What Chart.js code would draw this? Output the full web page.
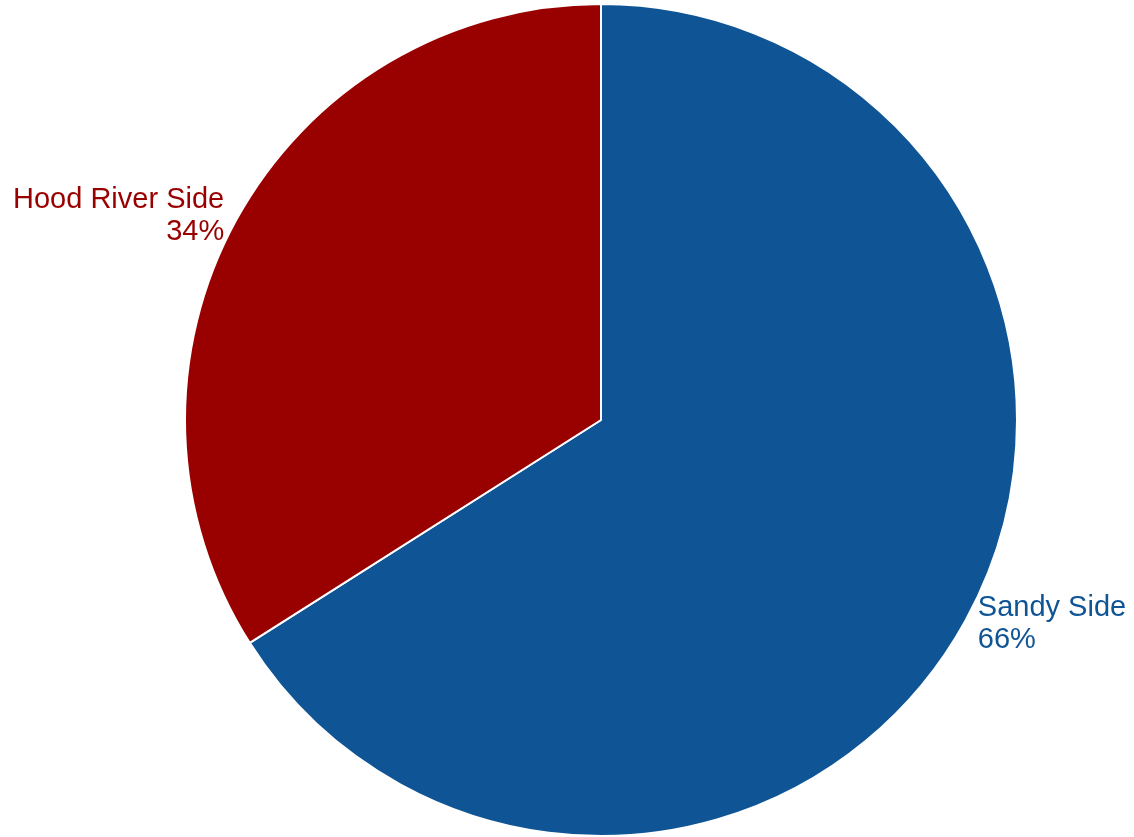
<!DOCTYPE html>
<html>
<head>
<meta charset="utf-8">
<script src="https://cdn.jsdelivr.net/npm/chart.js@4"></script>
<style>
  html, body { margin: 0; padding: 0; background: #fff; }
  #wrap { width: 1134px; height: 837px; }
</style>
</head>
<body>
<div id="wrap"><canvas id="pieChart"></canvas></div>
<script>
const categories = ['Sandy Side', 'Hood River Side'];
const shares = [66, 34];
const sliceColors = ['#0F5494', '#990000'];

// writes "name / pct%" just outside each slice, at its middle angle
const sliceLabels = {
    id: 'sliceLabels',
    afterDatasetsDraw(chart) {
        const ctx = chart.ctx;
        const meta = chart.getDatasetMeta(0);
        const lineH = 32;
        ctx.save();
        ctx.font = '29px "Liberation Sans", Arial, sans-serif';
        ctx.textBaseline = 'middle';
        meta.data.forEach((arc, i) => {
            const p = arc.getProps(['x', 'y', 'startAngle', 'endAngle', 'outerRadius'], true);
            const mid = (p.startAngle + p.endAngle) / 2;
            const x = p.x + Math.cos(mid) * (p.outerRadius + 14);
            const y = p.y + Math.sin(mid) * (p.outerRadius + 7);
            ctx.fillStyle = sliceColors[i];
            ctx.textAlign = Math.cos(mid) < 0 ? 'right' : 'left';
            ctx.fillText(categories[i], x, y - lineH / 2);
            ctx.fillText(shares[i] + '%', x, y + lineH / 2);
        });
        ctx.restore();
    }
};

new Chart(document.getElementById('pieChart'), {
    type: 'pie',
    data: {
        labels: categories,
        datasets: [{
            data: shares,
            backgroundColor: sliceColors,
            borderColor: '#ffffff',
            borderWidth: 2
        }]
    },
    options: {
        responsive: true,
        maintainAspectRatio: false,
        animation: false,
        layout: { padding: { left: 184, right: 116, top: 3, bottom: 0 } },
        plugins: { legend: { display: false }, tooltip: { enabled: false } }
    },
    plugins: [sliceLabels]
});
</script>
</body>
</html>
